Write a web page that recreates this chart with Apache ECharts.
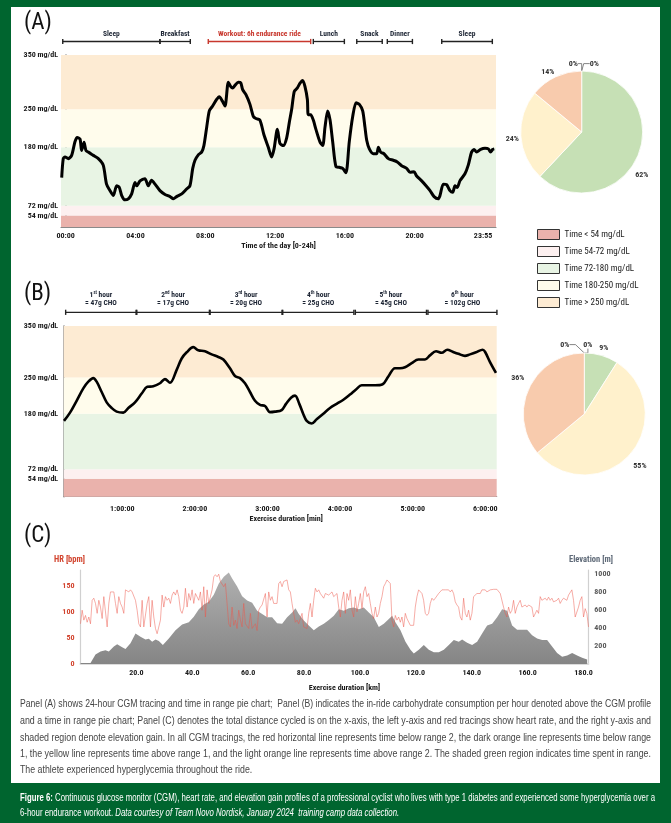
<!DOCTYPE html>
<html><head><meta charset="utf-8">
<script src="https://cdn.jsdelivr.net/npm/echarts@6/dist/echarts.min.js"></script>
<style>
html,body{margin:0;padding:0;width:671px;height:823px;overflow:hidden;background:#00652f;}
#panel{position:absolute;left:11px;top:7px;width:649px;height:776px;background:#fff;}
#chart{position:absolute;left:0;top:0;width:671px;height:823px;}
.ln{position:absolute;left:20px;white-space:pre;display:inline-block;transform-origin:0 50%;font-family:"Liberation Sans Narrow","Arial Narrow","Liberation Sans",sans-serif;}
.para{font-size:11px;color:#454545;line-height:14px;}
.cap{font-size:10px;color:#fff;line-height:13px;}
</style></head>
<body>
<div id="panel"></div>
<div id="chart"></div>
<div id="txt"></div>
<script>
// ---------- DATA ----------
const bandNames = ['Time < 54 mg/dL','Time 54-72 mg/dL','Time 72-180 mg/dL','Time 180-250 mg/dL','Time > 250 mg/dL'];
const bandEdges = [54, 72, 180, 250, 350];
const glucoseTicks = [54, 72, 180, 250, 350];

const aHours = [-0.23,-0.14,-0.04,0.15,0.34,0.53,0.66,0.82,0.91,1.05,1.16,1.29,1.58,1.87,2.15,2.34,2.54,2.73,2.92,3.07,3.21,3.40,3.59,3.78,3.97,4.07,4.26,4.54,4.73,4.92,5.12,5.40,5.69,5.98,6.17,6.36,6.65,6.93,7.12,7.28,7.41,7.60,7.79,7.92,8.08,8.23,8.42,8.65,8.80,8.98,9.13,9.32,9.45,9.57,9.70,9.89,10.03,10.14,10.33,10.56,10.75,10.90,11.13,11.36,11.61,11.80,11.94,12.13,12.28,12.47,12.66,12.82,12.95,13.10,13.27,13.43,13.58,13.71,13.85,13.90,14.04,14.19,14.34,14.57,14.73,14.86,15.01,15.15,15.30,15.49,15.68,15.87,16.06,16.25,16.45,16.64,16.83,17.02,17.15,17.25,17.40,17.63,17.82,17.92,18.05,18.24,18.49,18.77,19.00,19.25,19.54,19.73,19.96,20.11,20.40,20.65,20.88,21.11,21.35,21.45,21.64,21.83,22.02,22.18,22.31,22.44,22.59,22.88,23.07,23.26,23.40,23.55,23.78,24.03,24.22,24.35,24.47,24.56];
const aGlucose = [124,159,162,159,165,190,198,195,174,189,174,171,165,159,147,112,100,91,109,106,91,83,85,94,115,109,118,122,109,119,112,100,93,89,85,89,94,103,109,141,156,166,171,183,217,247,256,268,273,265,256,300,292,289,294,300,299,286,277,259,237,233,230,203,180,162,177,213,187,183,197,227,250,283,289,298,303,292,268,240,240,230,213,190,183,217,247,230,190,144,143,141,133,190,237,262,259,247,217,193,177,168,168,180,171,168,159,156,153,146,141,134,135,127,118,109,100,89,85,91,112,111,100,97,109,106,118,131,147,171,176,171,176,178,177,171,176,177];
const aTickHours = [0,4,8,12,16,20,23.917];
const aTickLabels = ['00:00','04:00','08:00','12:00','16:00','20:00','23:55'];
const activityLabels = ['Sleep','Breakfast','Workout: 6h endurance ride','Lunch','Snack','Dinner','Sleep'];
const activityStart = [-0.17,5.40,8.17,14.19,16.68,18.43,21.55];
const activityEnd = [5.40,7.14,14.04,15.97,18.14,19.87,24.45];
const pieA = [0,0,62,24,14];

const bHours = [0.197,0.280,0.371,0.463,0.532,0.601,0.647,0.716,0.785,0.854,0.922,1.014,1.083,1.175,1.267,1.345,1.427,1.519,1.588,1.657,1.749,1.818,1.887,1.978,2.047,2.139,2.231,2.323,2.392,2.483,2.552,2.621,2.690,2.759,2.828,2.897,2.966,3.034,3.103,3.195,3.255,3.324,3.379,3.438,3.494,3.540,3.608,3.677,3.769,3.861,3.953,4.045,4.136,4.219,4.297,4.389,4.481,4.586,4.664,4.756,4.825,4.894,4.986,5.078,5.169,5.238,5.321,5.399,5.477,5.551,5.629,5.720,5.789,5.872,5.964,5.996,6.065,6.147];
const bGlucose = [166,182,205,229,242,249,242,222,202,191,184,182,191,202,219,232,233,239,247,240,265,287,299,309,303,301,295,290,285,268,253,249,239,222,205,197,195,183,184,187,199,211,215,199,179,166,161,169,180,191,199,207,217,227,235,235,235,237,252,268,268,270,278,285,285,293,301,298,304,300,296,292,295,299,304,300,280,259];
const bTickHours = [1,2,3,4,5,6];
const bTickLabels = ['1:00:00','2:00:00','3:00:00','4:00:00','5:00:00','6:00:00'];
const choHourNum = ['1','2','3','4','5','6'];
const choHourSuffix = ['st','nd','rd','th','th','th'];
const choGrams = [47,17,20,25,45,102];
const choStart = [0.22,1.20,2.21,3.21,4.21,5.21];
const choEnd = [1.19,2.20,3.20,4.19,5.19,6.16];
const pieB = [0,0,9,55,36];

const HR_STEP_KM = 0.596; // sampling interval of the HR trace
const hrBpm = [77,103,84,93,80,90,77,122,126,116,97,122,109,87,129,132,71,116,138,135,138,116,97,129,116,109,97,142,145,138,142,138,138,122,103,77,71,122,71,74,116,129,71,122,90,68,58,61,84,132,109,129,122,126,116,132,138,132,142,129,103,97,109,145,109,135,122,142,116,135,132,122,138,103,148,90,142,116,116,142,167,171,167,172,158,161,148,154,151,77,71,109,74,84,68,103,84,71,116,77,80,68,97,68,71,77,64,103,109,113,116,135,90,138,122,129,116,119,116,154,158,148,158,160,161,142,138,116,97,80,84,77,77,97,71,74,68,97,116,90,122,145,138,142,135,138,126,135,132,132,135,138,129,132,135,109,90,122,138,97,135,122,142,103,90,129,100,116,135,106,138,148,129,135,116,97,87,109,90,97,116,129,148,154,161,164,154,84,71,93,84,90,80,90,71,97,87,90,74,71,74,109,129,142,142,135,122,97,93,97,116,126,122,126,129,135,138,142,140,142,143,142,138,142,135,119,113,109,90,84,126,97,90,103,84,97,129,132,135,138,135,142,140,142,138,140,142,145,143,145,143,142,135,132,109,97,90,109,97,103,122,97,109,116,122,109,106,113,109,113,116,109,90,87,103,97,129,122,122,126,122,128,122,126,119,122,122,126,116,122,126,129,122,132,135,142,122,90,87,109,122,129,90,106,97,71];
const elevKm = [0,3.58,5.37,7.16,8.94,10.14,11.93,13.12,14.91,16.10,17.89,19.68,21.47,23.26,24.45,25.64,26.83,28.03,29.46,31.60,33.99,36.37,38.76,40.55,42.34,44.13,45.92,47.70,49.49,51.28,53.07,54.26,56.05,57.84,59.63,61.42,63.21,65.00,66.79,68.57,70.36,72.15,73.94,75.73,76.92,78.11,79.90,81.69,83.48,85.27,87.06,88.85,90.64,92.43,94.22,96.01,97.79,99.58,101.37,103.16,104.95,106.74,108.53,110.32,111.51,112.70,114.49,116.28,118.07,119.26,121.05,122.84,124.63,126.42,128.21,130.00,131.78,133.57,135.36,136.55,138.34,140.13,141.92,143.71,145.50,147.29,149.08,150.87,152.65,154.44,156.23,158.02,159.81,161.60,163.39,165.18,166.97,168.75,170.54,172.33,174.12,175.91,177.70,179.49,181.28];
const elevM = [10,10,104,139,151,139,193,218,186,165,229,337,301,272,279,247,272,254,211,283,373,437,462,523,606,659,688,767,892,964,1011,946,857,749,702,677,588,552,516,516,452,444,516,570,616,552,480,427,373,416,444,487,534,606,588,616,624,606,624,570,516,409,444,498,534,462,373,247,158,115,158,211,158,129,129,158,211,265,247,272,236,211,247,337,427,444,516,606,588,427,380,380,380,319,283,265,265,193,122,79,93,122,93,68,50];
const kmTicks = [20,40,60,80,100,120,140,160,180];
const hrTicks = [0,50,100,150];
const elevTicks = [200,400,600,800,1000];

// ---------- STYLE ----------
const FONT = '"Liberation Sans Narrow","Arial Narrow","Roboto Condensed","Liberation Sans",sans-serif';
const bandColors = ['#eab2ac','#fdf0f0','#e8f4e4','#fffcec','#fdebd3'];
const pieColors = ['#e6a5a0','#fbe1e1','#c6e0b5','#fff1cc','#f8cbad'];
const Y_MIN_A = 33, Y_MIN_B = 19;

const chart = echarts.init(document.getElementById('chart'), null, {renderer:'canvas'});

function bandRender(params, api){
  const cs = params.coordSys;
  const yTop = Math.max(cs.y, api.coord([api.value(0), api.value(2)])[1]);
  const yBot = Math.min(cs.y + cs.height, api.coord([api.value(0), api.value(1)])[1]);
  return {type:'rect', shape:{x:cs.x, y:yTop, width:cs.width, height:Math.max(0,yBot-yTop)}, style:{fill:api.visual('color')}};
}
function bandSeries(xi, yi, yMin){
  return bandNames.map((n,i)=>({
    type:'custom', name:n, xAxisIndex:xi, yAxisIndex:yi, z:1, silent:true,
    itemStyle:{color:bandColors[i]},
    renderItem: bandRender,
    encode:{x:0, y:[1,2]},
    data:[[xi===0?0:1, i===0?yMin:bandEdges[i-1], bandEdges[i]]]
  }));
}
function bracket(x0, x1, y, color){
  return [
    {type:'line', shape:{x1:x0,y1:y,x2:x1,y2:y}, style:{stroke:color,lineWidth:1.3}},
    {type:'line', shape:{x1:x0,y1:y-2.6,x2:x0,y2:y+2.6}, style:{stroke:color,lineWidth:1.4}},
    {type:'line', shape:{x1:x1,y1:y-2.6,x2:x1,y2:y+2.6}, style:{stroke:color,lineWidth:1.4}}
  ];
}
function activityRender(params, api){
  const cs = params.coordSys;
  const y = cs.y + cs.height;
  const x0 = api.coord([api.value(0),0])[0], x1 = api.coord([api.value(1),0])[0];
  const lbl = activityLabels[params.dataIndex];
  const isRide = lbl.indexOf('Workout')===0;
  const col = isRide ? '#c8372d' : '#222';
  const txtCol = isRide ? '#c8372d' : '#1c2433';
  return {type:'group', children: bracket(x0,x1,y,col).concat([
    {type:'text', style:{text:lbl, x:(x0+x1)/2, y:y-7.5, align:'center', verticalAlign:'middle', fill:txtCol, font:'bold 7.5px '+FONT}}
  ])};
}
function choRender(params, api){
  const cs = params.coordSys;
  const y = cs.y + cs.height;
  const i = params.dataIndex;
  const x0 = api.coord([api.value(0),0])[0], x1 = api.coord([api.value(1),0])[0];
  return {type:'group', children: bracket(x0,x1,y,'#222').concat([
    {type:'text', style:{
      text:'{b|'+choHourNum[i]+'}{s|'+choHourSuffix[i]+'}{b| hour}\n{b|= '+choGrams[i]+'g CHO}',
      x:(x0+x1)/2, y:y-4.5, align:'center', verticalAlign:'bottom',
      rich:{b:{font:'bold 7.5px '+FONT, fill:'#1c2433', lineHeight:8.5},
            s:{font:'bold 4.5px '+FONT, fill:'#1c2433', lineHeight:8.5, verticalAlign:'top'}}
    }}
  ])};
}

const axLabel = {fontFamily:FONT, fontWeight:'bold', fontSize:8, color:'#1a1a1a'};
const hidden = {show:false};

const seriesList = [];
seriesList.push(...bandSeries(0,0,Y_MIN_A));
seriesList.push({type:'line', name:'CGM 24h', xAxisIndex:0, yAxisIndex:0, z:5, symbol:'none', smooth:0.25,
  lineStyle:{width:3, color:'#000', join:'round'}, data:aHours.map((h,i)=>[h,aGlucose[i]])});
seriesList.push({type:'custom', name:'activities', xAxisIndex:1, yAxisIndex:1, renderItem:activityRender,
  encode:{x:[0,1]}, data:activityStart.map((s,i)=>[s,activityEnd[i]])});
seriesList.push(...bandSeries(2,2,Y_MIN_B));
seriesList.push({type:'line', name:'CGM ride', xAxisIndex:2, yAxisIndex:2, z:5, symbol:'none', smooth:0.35,
  lineStyle:{width:2.6, color:'#000'}, data:bHours.map((h,i)=>[h,bGlucose[i]])});
seriesList.push({type:'custom', name:'cho', xAxisIndex:3, yAxisIndex:3, renderItem:choRender,
  encode:{x:[0,1]}, data:choStart.map((s,i)=>[s,choEnd[i]])});
seriesList.push({type:'line', name:'Elevation', xAxisIndex:4, yAxisIndex:5, z:2, symbol:'none',
  lineStyle:{width:0}, areaStyle:{opacity:1, color:new echarts.graphic.LinearGradient(0,0,0,1,[{offset:0,color:'#b0b0b0'},{offset:1,color:'#858585'}])},
  data:elevKm.map((k,i)=>[k,elevM[i]])});
seriesList.push({type:'line', name:'HR', xAxisIndex:4, yAxisIndex:4, z:3, symbol:'none',
  lineStyle:{width:0.9, color:'rgba(236,88,76,0.55)'}, data:hrBpm.map((v,i)=>[i*HR_STEP_KM, v])});

// label placement tweaks: zero-share slices anchor to the top of the pie, others get small nudges
function pieSeries(center, values, zeroOffsets, nudges){
  return {type:'pie', center:center, radius:61, startAngle:90, clockwise:true, z:4,
    avoidLabelOverlap:false, minShowLabelAngle:0,
    itemStyle:{borderColor:'#fff', borderWidth:0.8},
    label:{formatter:'{d}%', fontFamily:FONT, fontWeight:'bold', fontSize:8, color:'#333', overflow:'none', edgeDistance:2},
    labelLine:{length:6, length2:6, lineStyle:{color:'#666', width:0.8}},
    labelLayout: function(p){
      const off = zeroOffsets[p.dataIndex];
      if (off) return {x:p.rect.x + off[0], y:p.rect.y + off[1], align:'center', verticalAlign:'middle'};
      const n = nudges[p.dataIndex];
      if (n) return {dx:n[0], dy:n[1]};
      return {};
    },
    data: values.map((v,i)=>({value:v, name:bandNames[i], itemStyle:{color:pieColors[i]},
      labelLine: v===0 ? {show:true} : {show:false, length:3, length2:2}}))
  };
}
seriesList.push(pieSeries([581.7,132], pieA, {0:[-8,-7], 1:[13,-7]}, {2:[-13,19], 3:[8,3], 4:[7,-2]}));
seriesList.push(pieSeries([584.3,414], pieB, {0:[-19,-8], 1:[4,-8]}, {2:[-10,-5], 3:[-6,10], 4:[5,-9]}));

const option = {
  animation:false,
  textStyle:{fontFamily:FONT},
  grid:[
    {left:61, top:55, width:435, height:172, outerBoundsMode:'none'},
    {left:61, top:26.5, width:435, height:15, outerBoundsMode:'none'},
    {left:63.7, top:326, width:433, height:170.7, outerBoundsMode:'none'},
    {left:63.7, top:297.3, width:433, height:15, outerBoundsMode:'none'},
    {left:80.5, top:570, width:507.8, height:94, outerBoundsMode:'none'}
  ],
  xAxis:[
    {gridIndex:0, type:'value', min:-0.27, max:24.66, splitLine:hidden, axisTick:hidden,
     axisLine:{lineStyle:{color:'#8a8a8a', width:1.2}},
     axisLabel:Object.assign({customValues:aTickHours, margin:5, formatter:v=>{let b=0;aTickHours.forEach((t,i)=>{if(Math.abs(t-v)<Math.abs(aTickHours[b]-v))b=i;});return aTickLabels[b];}},axLabel),
     name:'Time of the day [0-24h]', nameLocation:'middle', nameGap:15, nameTextStyle:Object.assign({},axLabel)},
    {gridIndex:1, type:'value', min:-0.27, max:24.66, show:false},
    {gridIndex:2, type:'value', min:0.193, max:6.157, splitLine:hidden, axisTick:hidden,
     axisLine:{lineStyle:{color:'#8a8a8a', width:1.2}},
     axisLabel:Object.assign({customValues:bTickHours, margin:8, formatter:v=>bTickLabels[bTickHours.indexOf(Math.round(v))]},axLabel),
     name:'Exercise duration [min]', nameLocation:'middle', nameGap:18.5, nameTextStyle:Object.assign({padding:[0,0,0,12]},axLabel)},
    {gridIndex:3, type:'value', min:0.193, max:6.157, show:false},
    {gridIndex:4, type:'value', min:0, max:181.7, splitLine:hidden, axisTick:hidden,
     axisLine:{lineStyle:{color:'#dcdcdc', width:2}},
     axisLabel:Object.assign({customValues:kmTicks, margin:5, formatter:v=>v.toFixed(1)},axLabel),
     name:'Exercise duration [km]', nameLocation:'middle', nameGap:20, nameTextStyle:Object.assign({padding:[0,0,0,20]},axLabel)}
  ],
  yAxis:[
    {gridIndex:0, type:'value', min:Y_MIN_A, max:350, splitLine:hidden, axisTick:hidden,
     axisLine:{show:true, lineStyle:{color:'#8a8a8a', width:1.6}},
     axisLabel:Object.assign({customValues:glucoseTicks, margin:3, formatter:v=>v+' mg/dL'},axLabel)},
    {gridIndex:1, type:'value', min:0, max:1, show:false},
    {gridIndex:2, type:'value', min:Y_MIN_B, max:350, splitLine:hidden, axisTick:hidden,
     axisLine:{show:true, lineStyle:{color:'#8a8a8a', width:1.6}},
     axisLabel:Object.assign({customValues:glucoseTicks, margin:5.5, formatter:v=>v+' mg/dL'},axLabel)},
    {gridIndex:3, type:'value', min:0, max:1, show:false},
    {gridIndex:4, type:'value', min:0, max:180, splitLine:hidden, axisTick:hidden,
     axisLine:{show:true, lineStyle:{color:'#d0d0d0', width:1.2}},
     axisLabel:Object.assign({},axLabel,{customValues:hrTicks, margin:6, color:'#d2452f', formatter:v=>String(v)})},
    {gridIndex:4, type:'value', position:'right', min:0, max:1040, splitLine:hidden, axisTick:hidden,
     axisLine:{show:true, lineStyle:{color:'#d0d0d0', width:1.2}},
     axisLabel:Object.assign({},axLabel,{customValues:elevTicks, margin:6, color:'#5a5a5a', formatter:v=>String(v)})}
  ],
  legend:{data:bandNames, orient:'vertical', left:532, top:224, itemWidth:22, itemHeight:10, itemGap:6,
    icon:'rect', selectedMode:false, itemStyle:{borderColor:'#333', borderWidth:1},
    textStyle:{fontFamily:FONT, fontSize:9, color:'#222'}},
  graphic:[
    {type:'text', left:24, top:12, style:{text:'(A)', font:'23px '+FONT, fill:'#111'}},
    {type:'text', left:24, top:283, style:{text:'(B)', font:'23px '+FONT, fill:'#111'}},
    {type:'text', left:24, top:525, style:{text:'(C)', font:'23px '+FONT, fill:'#111'}},
    {type:'text', left:54, top:555, style:{text:'HR [bpm]', font:'bold 8.5px '+FONT, fill:'#d2452f'}},
    {type:'text', left:569, top:555, style:{text:'Elevation [m]', font:'bold 8.5px '+FONT, fill:'#5f6a78'}}
  ],
  series:seriesList
};
chart.setOption(option);

// ---------- caption text ----------
const paraLines = [
 'Panel (A) shows 24-hour CGM tracing and time in range pie chart;  Panel (B) indicates the in-ride carbohydrate consumption per hour denoted above the CGM profile',
 'and a time in range pie chart; Panel (C) denotes the total distance cycled is on the x-axis, the left y-axis and red tracings show heart rate, and the right y-axis and',
 'shaded region denote elevation gain. In all CGM tracings, the red horizontal line represents time below range 2, the dark orange line represents time below range',
 '1, the yellow line represents time above range 1, and the light orange line represents time above range 2. The shaded green region indicates time spent in range.',
 'The athlete experienced hyperglycemia throughout the ride.'
];
const paraCenters = [703, 720, 736.5, 753, 769];
const txt = document.getElementById('txt');
const scales = [];
paraLines.forEach((t,i)=>{
  const d = document.createElement('div');
  d.className='ln para'; d.textContent=t; d.style.top=(paraCenters[i]-7)+'px';
  txt.appendChild(d);
  if(i<4){ const w=d.getBoundingClientRect().width; const s=631/w; scales.push(s); d.style.transform='scaleX('+s+')'; }
  else { const s=scales.reduce((a,b)=>a+b,0)/scales.length; d.style.transform='scaleX('+s+')'; }
});
const c1 = document.createElement('div'); c1.className='ln cap'; c1.style.top='791px';
c1.innerHTML='<b>Figure 6:</b> Continuous glucose monitor (CGM), heart rate, and elevation gain profiles of a professional cyclist who lives with type 1 diabetes and experienced some hyperglycemia over a';
txt.appendChild(c1);
const cs = 635/c1.getBoundingClientRect().width; c1.style.transform='scaleX('+cs+')';
const c2 = document.createElement('div'); c2.className='ln cap'; c2.style.top='806px';
c2.innerHTML='6-hour endurance workout. <i>Data courtesy of Team Novo Nordisk, January 2024  training camp data collection.</i>';
txt.appendChild(c2); c2.style.transform='scaleX('+cs+')';
</script>
</body></html>
